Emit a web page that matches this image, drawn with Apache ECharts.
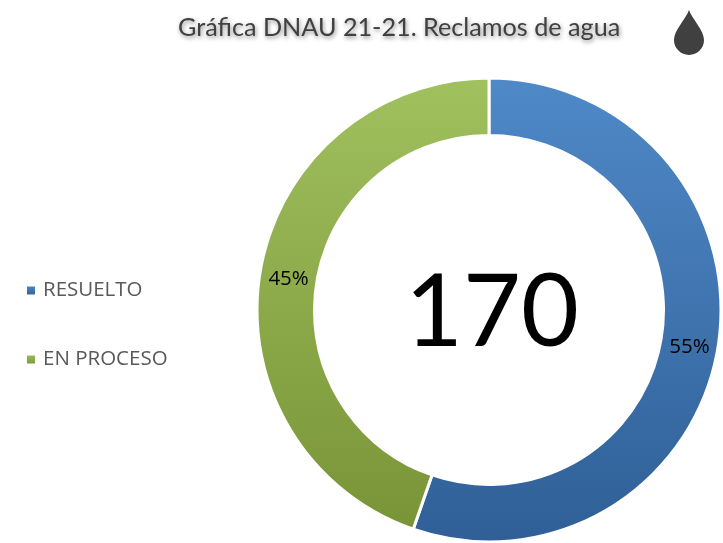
<!DOCTYPE html>
<html><head><meta charset="utf-8">
<style>html,body{margin:0;padding:0;background:#fff}#c{width:723px;height:543px}</style>
<script src="https://cdn.jsdelivr.net/npm/echarts@6/dist/echarts.min.js"></script>
</head><body><div id="c"></div>
<script>
const categories = ['RESUELTO', 'EN PROCESO'];
const values = [94, 76];
const percentLabels = ['55%', '45%'];
const chartTitle = 'Gráfica DNAU 21-21. Reclamos de agua';
const totalLabel = '170';
const gradients = [['#4f89c8', '#2f5f96'], ['#a1c05e', '#789437']];
const labelOffsets = [[-3, 3], [3, 3]];

const chart = echarts.init(document.getElementById('c'), null, {renderer: 'canvas'});
const grad = (p) => new echarts.graphic.LinearGradient(0, 0, 0, 1, [
  {offset: 0, color: p[0]}, {offset: 1, color: p[1]}
]);
chart.setOption({
  animation: false,
  backgroundColor: '#fff',
  title: [
    {text: chartTitle, left: 173, top: 10,
     textStyle: {fontFamily: 'Lato', fontSize: 25.2, fontWeight: 'normal', color: '#404040',
       textShadowColor: 'rgba(0,0,0,0.45)', textShadowBlur: 4, textShadowOffsetX: 1, textShadowOffsetY: 2}},
    {text: totalLabel, left: 487, top: 309, textAlign: 'center', textVerticalAlign: 'middle',
     textStyle: {fontFamily: 'Lato', fontSize: 100, fontWeight: 'normal', color: '#000'}}
  ],
  legend: {
    orient: 'vertical', left: 20, top: 275, itemWidth: 10, itemHeight: 10, itemGap: 48, icon: 'rect',
    data: categories,
    textStyle: {fontFamily: 'Open Sans', fontSize: 20.5, color: '#595959', padding: [0, 0, 0, 2]}
  },
  series: [{
    type: 'pie', center: [489, 310], radius: [174.5, 232], startAngle: 90, clockwise: true,
    silent: true,
    itemStyle: {borderColor: '#fff', borderWidth: 3},
    label: {show: true, position: 'inside', fontFamily: 'Open Sans', fontSize: 20.5, color: '#000',
      formatter: (p) => percentLabels[p.dataIndex]},
    labelLine: {show: false},
    data: categories.map((name, i) => ({name, value: values[i],
      itemStyle: {color: grad(gradients[i])}, label: {offset: labelOffsets[i]}}))
  }, {
    type: 'custom', coordinateSystem: 'none', silent: true, data: [0],
    renderItem: () => ({
      type: 'path',
      shape: {
        pathData: 'M15 0 C18 9 30 20 30 30 A15 15 0 0 1 0 30 C0 20 12 9 15 0 Z',
        x: 674, y: 10, width: 30, height: 45
      },
      style: {fill: '#404040'}
    })
  }]
});
</script></body></html>
